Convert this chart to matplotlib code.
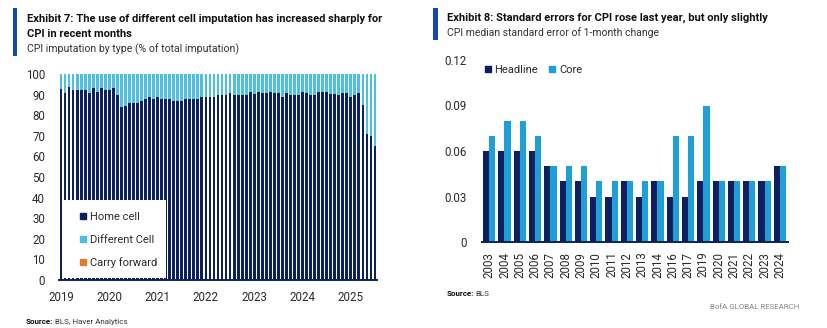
import matplotlib.pyplot as plt
import numpy as np
from matplotlib.lines import Line2D
from matplotlib.patches import Rectangle

plt.rcParams['font.family'] = ['Roboto', 'DejaVu Sans']

NAVY = '#0c2060'
LIGHT = '#4cbfe2'
CORE = '#1e9fd8'
ORANGE = '#e07b26'
TEXT = '#2a2a2a'

# Exhibit 7: monthly imputation shares, Jan 2019 - Jul 2025
years7 = ['2019', '2020', '2021', '2022', '2023', '2024', '2025']
home_cell = [92.5, 91, 93.5, 92, 92, 92, 92, 91, 93, 91.5, 93, 92,
             92, 93, 90, 84, 84.7, 86, 86, 86, 87, 88, 89, 88,
             89, 88, 88, 88, 87, 87, 87, 88, 88, 88, 88, 89,
             89, 89, 89, 90, 90, 90, 91, 90, 90, 90, 90, 91.5,
             90.5, 91.5, 91, 91, 91.5, 91, 91, 89, 91, 90, 90, 90,
             91.5, 91, 90, 90, 91.5, 91.5, 91.5, 90.5, 90.5, 90, 91, 91,
             89, 90, 91, 85, 71, 70, 65]
diff_cell = [7.5, 9, 6.5, 8, 8, 8, 8, 9, 7, 8.5, 7, 8,
             8, 7, 10, 16, 15.3, 14, 14, 14, 13, 12, 11, 12,
             11, 12, 12, 12, 13, 13, 13, 12, 12, 12, 12, 11,
             11, 11, 11, 10, 10, 10, 9, 10, 10, 10, 10, 8.5,
             9.5, 8.5, 9, 9, 8.5, 9, 9, 11, 9, 10, 10, 10,
             8.5, 9, 10, 10, 8.5, 8.5, 8.5, 9.5, 9.5, 10, 9, 9,
             11, 10, 9, 15, 29, 30, 35]
carry_fwd = [0] * len(home_cell)

# Exhibit 8: median standard error of 1-month change
years8 = ['2003', '2004', '2005', '2006', '2007', '2008', '2009', '2010', '2011', '2012',
          '2013', '2014', '2016', '2017', '2019', '2020', '2021', '2022', '2023', '2024']
headline = [0.06, 0.06, 0.06, 0.06, 0.05, 0.04, 0.04, 0.03, 0.03, 0.04,
            0.03, 0.04, 0.03, 0.03, 0.04, 0.04, 0.04, 0.04, 0.04, 0.05]
core = [0.07, 0.08, 0.08, 0.07, 0.05, 0.05, 0.05, 0.04, 0.04, 0.04,
        0.04, 0.04, 0.07, 0.07, 0.09, 0.04, 0.04, 0.04, 0.04, 0.05]

W, H = 828, 328
fig = plt.figure(figsize=(W / 100, H / 100), dpi=100)


def box(x0, y0, x1, y1):
    # pixel box (top-left origin) -> figure fraction rect
    return [x0 / W, 1 - y1 / H, (x1 - x0) / W, (y1 - y0) / H]


def clean(ax):
    for s in ['top', 'right', 'left']:
        ax.spines[s].set_visible(False)
    ax.spines['bottom'].set_color(NAVY)
    ax.spines['bottom'].set_linewidth(1.4)


# ---- left chart ----
ax1 = fig.add_axes(box(59, 74, 377, 280))
x = np.arange(len(home_cell))
hc = np.array(home_cell)
dc = np.array(diff_cell)
ax1.bar(x, hc, width=0.7, color=NAVY, zorder=2)
ax1.bar(x, dc, bottom=hc, width=0.7, color=LIGHT, zorder=2)
ax1.bar(x, carry_fwd, bottom=hc + dc, width=0.7, color=ORANGE, zorder=2)
ax1.set_xlim(-0.5, len(x) - 0.5)
ax1.set_ylim(0, 100)
ax1.set_yticks(range(0, 101, 10))
ax1.set_xticks(np.arange(len(years7)) * 12)
ax1.set_xticklabels(years7)
clean(ax1)
ax1.tick_params(length=0, labelsize=8.3, colors=TEXT)
ax1.tick_params(axis='y', pad=10)
ax1.tick_params(axis='x', pad=8)

ax1.add_patch(Rectangle((0.012, 0.008), 0.325, 0.38, transform=ax1.transAxes,
                        facecolor='white', edgecolor='none', zorder=3))
h7 = [Line2D([], [], marker='s', ls='', color=c, markersize=4) for c in (NAVY, LIGHT, ORANGE)]
leg1 = ax1.legend(h7, ['Home cell', 'Different Cell', 'Carry forward'], loc='upper left',
                  bbox_to_anchor=(0.03, 0.372), frameon=False, fontsize=8,
                  labelspacing=1.13, handletextpad=0.1, handlelength=1.0,
                  borderpad=0.3)
leg1.set_zorder(4)
for t in leg1.get_texts():
    t.set_color(TEXT)

# ---- right chart ----
ax2 = fig.add_axes(box(482, 60, 788, 242))
p = np.arange(len(years8))
ax2.bar(p - 0.2, headline, width=0.4, color=NAVY)
ax2.bar(p + 0.2, core, width=0.4, color=CORE)
ax2.set_xlim(-0.47, len(p) - 0.47)
ax2.set_ylim(0, 0.12)
ax2.set_yticks([0, 0.03, 0.06, 0.09, 0.12])
ax2.set_yticklabels(['0', '0.03', '0.06', '0.09', '0.12'])
ax2.set_xticks(p)
ax2.set_xticklabels(years8, rotation=90)
clean(ax2)
ax2.tick_params(length=0, labelsize=8.3, colors=TEXT)
ax2.tick_params(axis='y', pad=11)
ax2.tick_params(axis='x', pad=7)
h8 = [Line2D([], [], marker='s', ls='', color=c, markersize=4) for c in (NAVY, CORE)]
leg2 = ax2.legend(h8, ['Headline', 'Core'], loc='center left', bbox_to_anchor=(0.0, 0.945),
                  ncol=2, frameon=False, fontsize=8, handletextpad=0.1, handlelength=1.0,
                  columnspacing=0.8, borderpad=0, borderaxespad=0)
for t in leg2.get_texts():
    t.set_color(TEXT)

# ---- titles, accent bars, sources ----
BLUE = '#1447b0'
fig.patches.append(Rectangle((13 / W, 1 - 56 / H), 4 / W, 48 / H, transform=fig.transFigure,
                             facecolor=BLUE, edgecolor='none'))
fig.patches.append(Rectangle((433 / W, 1 - 40 / H), 5 / W, 32 / H, transform=fig.transFigure,
                             facecolor=BLUE, edgecolor='none'))

fig.text(27 / W, 1 - 19 / H, 'Exhibit 7: The use of different cell imputation has increased sharply for',
         fontsize=8, fontweight='bold', color='#111111', va='center')
fig.text(27 / W, 1 - 34 / H, 'CPI in recent months', fontsize=8, fontweight='bold',
         color='#111111', va='center')
fig.text(27 / W, 1 - 49 / H, 'CPI imputation by type (% of total imputation)', fontsize=7.6,
         color='#333333', va='center')
fig.text(447 / W, 1 - 18 / H, 'Exhibit 8: Standard errors for CPI rose last year, but only slightly',
         fontsize=8, fontweight='bold', color='#111111', va='center')
fig.text(447 / W, 1 - 33 / H, 'CPI median standard error of 1-month change', fontsize=7.5,
         color='#333333', va='center')

renderer = fig.canvas.get_renderer()


def source(x, y, rest):
    t = fig.text(x / W, 1 - y / H, 'Source:', fontsize=5.8, fontweight='bold', color='#111111', va='center')
    bb = t.get_window_extent(renderer)
    fig.text(bb.x1 / W + 1.5 / W, 1 - y / H, rest, fontsize=5.8, color='#333333', va='center')


source(26, 322, 'BLS, Haver Analytics')
source(447, 294, 'BLS')
fig.text(799 / W, 1 - 307 / H, 'BofA GLOBAL RESEARCH', fontsize=5.7, color='#888888',
         va='center', ha='right')

fig.savefig('out.png', dpi=100)
